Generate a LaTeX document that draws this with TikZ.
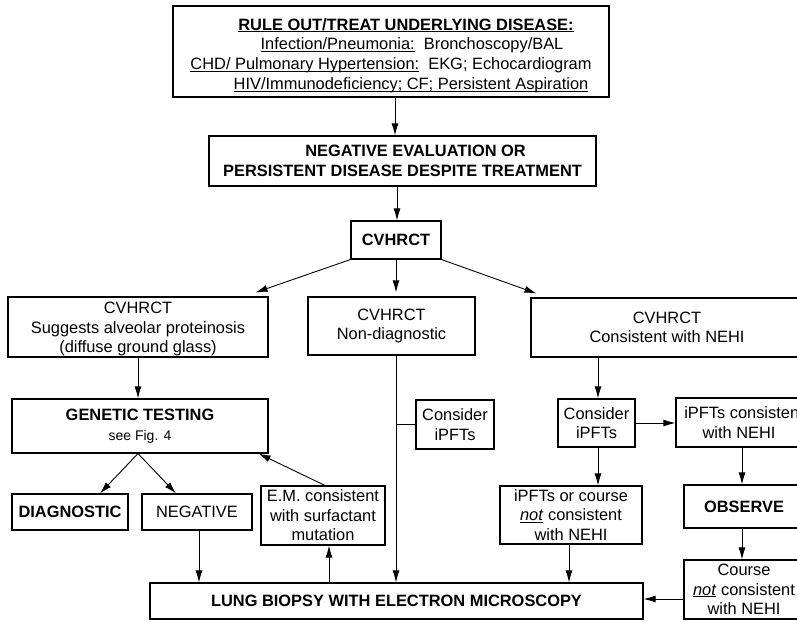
\documentclass[tikz,border=0pt]{standalone}
\usepackage{fontspec}
\setmainfont{Liberation Sans}
\usetikzlibrary{arrows.meta}
\newcommand{\myul}[1]{\underline{\smash{#1}\vphantom{A}}}
\newcommand{\fsmain}{\fontsize{16.4}{19.5}\selectfont}
\begin{document}
\begin{tikzpicture}[x=1pt,y=-1pt,
  box/.style={draw, line width=1.1pt, inner sep=0pt, align=center, font=\fsmain},
  arr/.style={-{Latex[length=12pt,width=7pt]}, line width=0.9pt},
  ln/.style={line width=0.9pt}]
\useasboundingbox (0,0) rectangle (797,621);
\clip (0,0) rectangle (797,621);

\node[box, minimum width=436pt, minimum height=91pt, font=\fontsize{16.4}{19.7}\selectfont] (top) at (391,51.5)
 {\rule{0pt}{18.5pt}\hspace*{30pt}\myul{\textbf{RULE OUT/TREAT UNDERLYING DISEASE:}}\\
  \hspace*{42pt}\myul{Infection/Pneumonia:}\ \ Bronchoscopy/BAL\\
  \myul{CHD/ Pulmonary Hypertension:}\ \ EKG; Echocardiogram\\
  \hspace*{40pt}\myul{HIV/Immunodeficiency; CF; Persistent Aspiration}};

\node[box, minimum width=387pt, minimum height=50pt, font=\fsmain\bfseries] (neg) at (402.5,161)
 {\hspace*{26pt}NEGATIVE EVALUATION OR\\PERSISTENT DISEASE DESPITE TREATMENT};

\node[box, minimum width=90pt, minimum height=38pt, font=\fsmain\bfseries] (cv) at (396,240) {CVHRCT};

\node[box, minimum width=260pt, minimum height=60pt] (lft) at (138,327)
 {\rule{0pt}{16pt}CVHRCT\\Suggests alveolar proteinosis\\(diffuse ground glass)};
\node[box, minimum width=167pt, minimum height=58pt] (mid) at (391.5,326)
 {CVHRCT\\Non-diagnostic};
\node[box, minimum width=272pt, minimum height=59pt] (rgt) at (667,327.5)
 {CVHRCT\\Consistent with NEHI};

\node[box, minimum width=256pt, minimum height=54pt] (gen) at (140,426)
 {\textbf{GENETIC TESTING}\\{\fontsize{14}{19}\selectfont see Fig. 4}};

\node[box, minimum width=78pt, minimum height=49pt] (cmid) at (455,424.5) {Consider\\iPFTs};
\node[box, minimum width=77pt, minimum height=48pt] (crt) at (596.5,423) {Consider\\iPFTs};
\node[box, minimum width=136pt, minimum height=49pt] (ipc) at (744,422.5)
 {iPFTs consistent\\with NEHI\hspace*{10pt}};

\node[box, minimum width=116pt, minimum height=36pt, font=\fsmain\bfseries] (diag) at (70,512) {DIAGNOSTIC};
\node[box, minimum width=110pt, minimum height=36pt] (negb) at (197,512) {NEGATIVE};
\node[box, minimum width=124pt, minimum height=59pt] (em) at (323,515.5)
 {E.M. consistent\\with surfactant\\mutation};
\node[box, minimum width=142pt, minimum height=58pt] (ipn) at (571,515)
 {iPFTs or course\\\myul{\textit{not}} consistent\\with NEHI};
\node[box, minimum width=120pt, minimum height=43pt, font=\fsmain\bfseries] (obs) at (744,506.5) {OBSERVE};
\node[box, minimum width=120pt, minimum height=59pt] (course) at (744,589.5)
 {Course\\\myul{\textit{not}} consistent\\with NEHI};

\node[box, minimum width=493pt, minimum height=36pt, font=\fsmain\bfseries] (bio) at (396.5,601)
 {LUNG BIOPSY WITH ELECTRON MICROSCOPY};

% connectors
\draw[arr] ([xshift=4pt]top.south) -- ([xshift=4pt]top.south |- neg.north);
\draw[arr] ([xshift=-5.5pt]neg.south) -- ([xshift=-5.5pt]neg.south |- cv.north);
\draw[arr] (cv.south west) -- ([xshift=-13pt,yshift=4pt]lft.north east);
\draw[arr] (cv.south) -- ([yshift=4pt]cv.south |- mid.north);
\draw[arr] (cv.south east) -- ([xshift=6pt,yshift=4pt]rgt.north west);

\draw[arr] (lft.south) -- (lft.south |- gen.north);
\draw[arr] ([xshift=-2pt]gen.south) -- ([xshift=30pt]diag.north);
\draw[arr] ([xshift=-2pt]gen.south) -- ([xshift=-21pt]negb.north);
\draw[arr] ([xshift=2pt]em.north) -- ([xshift=-10pt]gen.south east);
\draw[arr] ([xshift=2pt]negb.south) -- ([xshift=2pt]negb.south |- bio.north);
\draw[arr] ([xshift=6pt]em.south |- bio.north) -- ([xshift=6pt]em.south);

\coordinate (mv) at ([xshift=4.5pt]mid.south);
\draw[arr] (mv) -- (mv |- bio.north);
\draw[ln] (cmid.west) -- (cmid.west -| mv);

\draw[arr] ([xshift=1.5pt]crt.north |- rgt.south) -- ([xshift=1.5pt]crt.north);
\draw[arr] (crt.east) -- (crt.east -| ipc.west);
\draw[arr] ([xshift=1.5pt]crt.south) -- ([xshift=1.5pt]crt.south |- ipn.north);
\draw[arr] ([xshift=-2pt]ipn.south) -- ([xshift=-2pt]ipn.south |- bio.north);
\draw[arr] ([xshift=-2pt]ipc.south) -- ([xshift=-2pt]ipc.south |- obs.north);
\draw[arr] ([xshift=-2pt]obs.south) -- ([xshift=-2pt]obs.south |- course.north);
\draw[arr] ([yshift=-9.5pt]course.west) -- ([yshift=-9.5pt]course.west -| bio.east);
\end{tikzpicture}
\end{document}
